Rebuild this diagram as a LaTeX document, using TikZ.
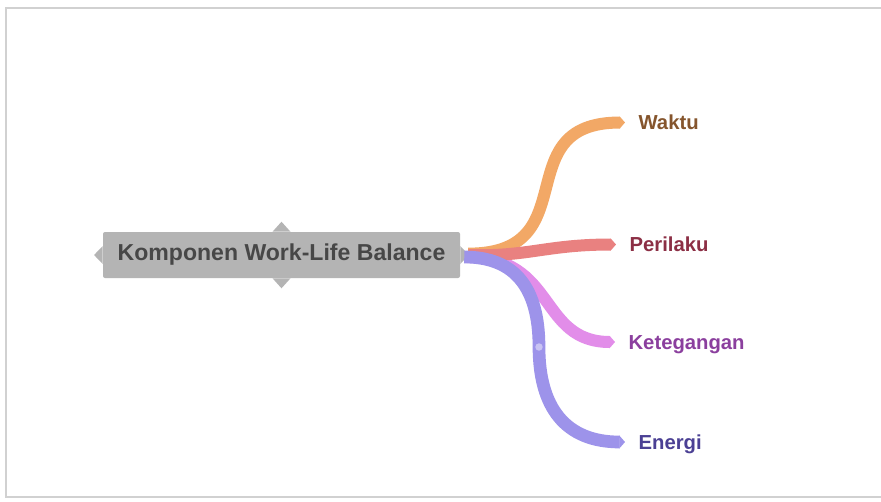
\documentclass[tikz,border=0pt]{standalone}
\usepackage{fontspec}
\setmainfont{Liberation Sans}
\usetikzlibrary{arrows.meta}

\definecolor{rootgray}{HTML}{B4B4B4}
\definecolor{roottext}{HTML}{474747}
\definecolor{wakline}{HTML}{F2A866}
\definecolor{waktext}{HTML}{85552D}
\definecolor{perline}{HTML}{E98180}
\definecolor{pertext}{HTML}{8C2F45}
\definecolor{ketline}{HTML}{E28DE9}
\definecolor{kettext}{HTML}{8B3F9E}
\definecolor{eneline}{HTML}{9D93EA}
\definecolor{enetext}{HTML}{4B4094}

\tikzstyle{root} = [rectangle, fill=rootgray, text=roottext, font=\fontsize{17.3}{20}\selectfont\bfseries, minimum width=267.75pt, minimum height=34.5pt, rounded corners=1.5pt, inner sep=0pt]
\tikzstyle{leaf} = [anchor=west, font=\fontsize{15.2}{18}\selectfont\bfseries, inner xsep=10pt, inner ysep=0pt, text height=11pt, text depth=0pt]
\tikzstyle{branch} = [draw, line width=9pt, -{Triangle[length=0pt 0.45, width=0pt 1]}]

\begin{document}
\begin{tikzpicture}[x=0.75pt, y=-0.75pt]
        \useasboundingbox (0,0) rectangle (881,501);
        \fill [white] (0,0) rectangle (881,501);
        \draw [black!18, line width=1pt] (6,8) rectangle (886,497);
        % Place nodes
        \node [root] (root) at (281.5,255) {Komponen Work-Life Balance};
        \node [leaf, text=waktext] (W) at (625,122.5) {Waktu};
        \node [leaf, text=pertext] (P) at (616,244.5) {Perilaku};
        \node [leaf, text=kettext] (K) at (615,342) {Ketegangan};
        \node [leaf, text=enetext] (E) at (625,442) {Energi};
        \coordinate (bend) at (539,347);
        % Notches on the root box
        \fill [rootgray] ([xshift=-6.75pt]root.north) -- ([yshift=7.5pt]root.north) -- ([xshift=6.75pt]root.north) -- cycle;
        \fill [rootgray] ([xshift=-6.75pt]root.south) -- ([yshift=-7.5pt]root.south) -- ([xshift=6.75pt]root.south) -- cycle;
        \fill [rootgray] ([yshift=-6.75pt]root.west) -- ([xshift=-6.5pt]root.west) -- ([yshift=6.75pt]root.west) -- cycle;
        \fill [rootgray] ([yshift=-6.75pt]root.east) -- ([xshift=6.5pt]root.east) -- ([yshift=6.75pt]root.east) -- cycle;
        % Draw edges
        \path [branch, ketline] ([xshift=5pt,yshift=-1.5pt]root.east) .. controls +(90,0) and +(-77,0) .. (K.west);
        \path [branch, wakline] ([xshift=6pt,yshift=1pt]root.east) .. controls +(120,0) and +(-120,0) .. (W.west);
        \path [branch, perline] ([xshift=6pt]root.east) .. controls +(60,2) and +(-70,0) .. (P.west);
        \path [branch, eneline, line width=9.5pt] ([xshift=3pt,yshift=-1.5pt]root.east) .. controls +(50,0) and +(0,-60) .. (bend) .. controls +(0,60) and +(-60,0) .. (E.west);
        \fill [white, opacity=0.45] (bend) circle (2.8pt);
    \end{tikzpicture}
\end{document}
